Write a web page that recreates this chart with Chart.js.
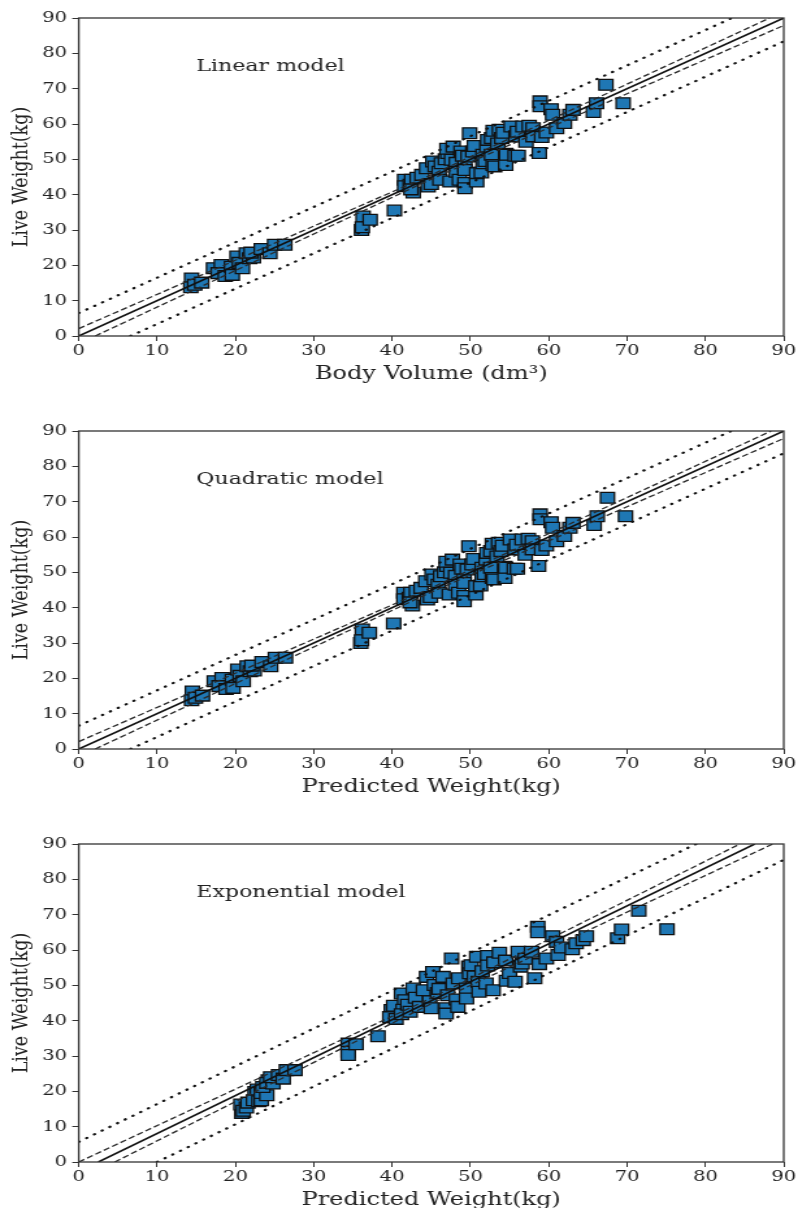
<!DOCTYPE html>
<html>
<head>
<meta charset="utf-8">
<script src="https://cdn.jsdelivr.net/npm/chart.js@4.4.1/dist/chart.umd.min.js"></script>
<style>
  html, body { margin: 0; padding: 0; background: #fff; overflow: hidden; }
  body { width: 798px; height: 1208px; position: relative; }
  /* the original figure is stretched sideways, so each panel is drawn narrow and scaled */
  .panel { position: absolute; left: 0; width: 614px; height: 400px; transform: scaleX(1.2997); transform-origin: 0 0; }
</style>
</head>
<body>
<div class="panel" style="top:0px"><canvas id="linearChart"></canvas></div>
<div class="panel" style="top:413px"><canvas id="quadChart"></canvas></div>
<div class="panel" style="top:826px"><canvas id="expChart"></canvas></div>
<script>
// Linear model: body volume vs live weight
const bodyVolume = [14.4, 14.3, 14.8, 15.7, 17.2, 18.2, 17.8, 18.7, 19.5, 19.6, 20.2, 20.5, 20.9, 21.4, 21.8, 22.3, 22.0, 23.3, 24.4, 25.0, 26.3,
  36.3, 36.1, 36.2, 37.2, 40.3,
  41.6, 41.6, 42.3, 42.5, 42.7, 42.4, 43.2, 43.8, 44.4, 44.6, 45.0, 45.2, 45.5, 46.0, 46.1, 46.3, 46.8, 47.1, 47.0, 47.4, 47.6, 47.8,
  48.2, 48.2, 48.6, 48.8, 49.0, 49.3, 49.3, 49.3, 49.3, 49.7, 49.9, 50.3, 50.5, 50.8, 50.8, 51.4, 51.6, 51.6, 51.9, 52.1, 52.2, 52.7,
  52.7, 52.9, 52.9, 53.1, 53.5, 53.7, 54.0, 54.2, 54.5, 54.5, 54.6, 55.2, 55.7, 55.8, 56.0, 56.1, 56.7, 57.1, 57.5, 58.0, 58.0, 58.8,
  58.9, 58.9, 59.1, 59.7, 60.3, 60.5, 61.0, 62.0, 62.7, 63.1, 65.7, 66.1, 67.3, 69.5];
const liveWeight1 = [16.3, 13.8, 14.5, 15.1, 19.2, 20.1, 17.8, 17.0, 19.6, 17.3, 22.5, 20.7, 19.2, 23.4, 22.0, 22.2, 23.6, 24.6, 23.4, 25.8, 25.8,
  33.8, 30.0, 30.8, 32.9, 35.5,
  44.2, 42.4, 42.8, 44.2, 40.6, 41.5, 44.8, 45.6, 47.5, 42.3, 43.0, 49.4, 48.0, 46.5, 44.2, 48.9, 50.0, 51.8, 53.0, 43.7, 49.9, 53.6,
  49.0, 46.5, 44.2, 52.2, 51.0, 48.0, 43.3, 41.8, 47.0, 50.8, 57.4, 52.2, 53.8, 43.7, 46.1, 46.3, 48.9, 51.3, 49.5, 53.6, 55.5, 51.3,
  56.0, 58.1, 48.4, 48.0, 54.5, 58.4, 56.0, 57.5, 51.6, 48.4, 51.3, 59.3, 51.0, 56.5, 57.8, 51.0, 59.3, 55.0, 59.5, 58.8, 56.5, 51.8,
  66.4, 65.0, 56.3, 57.6, 64.2, 62.6, 58.8, 60.3, 62.6, 64.0, 63.4, 65.9, 71.1, 65.9];

// Quadratic model: predicted vs live weight
const quadPredicted = [14.5, 14.4, 14.9, 15.8, 17.3, 18.3, 17.9, 18.8, 19.6, 19.7, 20.3, 20.6, 21.0, 21.5, 21.9, 22.4, 22.1, 23.4, 24.5, 25.1, 26.4,
  36.2, 36.0, 36.1, 37.1, 40.2,
  41.5, 41.5, 42.2, 42.4, 42.6, 42.3, 43.1, 43.7, 44.3, 44.5, 44.9, 45.1, 45.4, 45.9, 46.0, 46.2, 46.7, 47.0, 46.9, 47.3, 47.5, 47.7,
  48.1, 48.1, 48.5, 48.7, 48.9, 49.2, 49.2, 49.2, 49.2, 49.6, 49.8, 50.2, 50.4, 50.7, 50.7, 51.3, 51.5, 51.5, 51.8, 52.0, 52.1, 52.6,
  52.6, 52.8, 52.8, 53.0, 53.4, 53.6, 53.9, 54.1, 54.4, 54.4, 54.5, 55.1, 55.6, 55.7, 55.9, 56.0, 56.6, 57.0, 57.4, 57.9, 57.9, 58.7,
  58.9, 58.9, 59.1, 59.7, 60.3, 60.5, 61.0, 62.0, 62.7, 63.1, 65.8, 66.2, 67.5, 69.8];
const liveWeight2 = liveWeight1.slice();

// Exponential model: predicted vs live weight
const expPredicted = [20.8, 20.7, 21.0, 21.4, 21.6, 22.5, 22.3, 22.8, 23.0, 23.3, 23.3, 24.0, 23.5, 24.2, 24.0, 24.8, 24.5, 25.5, 26.1, 26.5, 27.6,
  34.4, 34.4, 34.4, 35.4, 38.2,
  39.9, 39.7, 40.2, 40.5, 41.2, 41.6, 41.4, 41.2, 42.0, 42.3, 42.7, 43.0, 43.5, 44.0, 44.4, 44.8, 45.0, 45.2, 45.4, 45.8, 46.0, 46.5,
  46.9, 46.9, 47.1, 47.6, 47.8, 48.2, 48.4, 48.5, 49.5, 49.5, 49.8, 49.9, 50.1, 50.5, 50.8, 51.0, 51.1, 51.5, 52.0, 52.2, 52.2, 52.9,
  53.0, 53.7, 54.5, 54.6, 55.0, 55.7, 56.1, 56.4, 56.6, 57.0, 57.8, 58.2, 58.6, 58.6, 58.8, 59.7, 60.5, 61.0, 61.2, 61.6, 63.0, 63.5,
  64.4, 64.8, 68.8, 69.3, 71.5, 75.1];
const liveWeight3 = [13.9, 16.3, 14.5, 15.4, 16.8, 19.8, 17.5, 20.5, 17.2, 17.5, 19.5, 18.9, 21.2, 23.1, 22.4, 22.2, 24.0, 24.6, 23.6, 26.0, 26.0,
  33.5, 31.2, 30.3, 33.3, 35.6,
  43.0, 41.0, 44.2, 40.5, 47.7, 45.8, 43.1, 41.8, 44.5, 42.5, 49.1, 46.5, 43.9, 48.6, 52.4, 45.5, 43.5, 53.8, 50.1, 47.8, 49.0, 52.4,
  43.5, 42.0, 47.2, 57.6, 50.5, 46.0, 43.9, 52.0, 49.1, 46.3, 55.3, 53.4, 55.7, 52.5, 58.1, 51.0, 48.2, 54.0, 50.5, 58.3, 55.6, 48.6,
  56.5, 59.2, 57.0, 51.3, 53.5, 51.0, 59.5, 55.3, 56.2, 57.5, 59.5, 52.0, 66.6, 65.0, 56.0, 57.6, 63.9, 62.3, 58.6, 60.7, 60.2, 61.9,
  62.8, 63.9, 63.3, 65.8, 71.1, 65.9];

// fitted line, confidence band (dashed) and prediction band (dotted), as [x, y] points
const linearFit = [[0, 0], [90, 90]];
const linearCiUpper = [[0, 2.1], [45, 45.6], [88.2, 90]];
const linearCiLower = [[2.1, 0], [45, 44.4], [90, 87.9]];
const linearPiUpper = [[0, 6.5], [83.4, 90]];
const linearPiLower = [[6.6, 0], [90, 83.4]];

const quadFit = [[0, 0], [90, 90]];
const quadCiUpper = [[0, 2.1], [45, 45.6], [88.4, 90]];
const quadCiLower = [[2.1, 0], [45, 44.4], [90, 87.9]];
const quadPiUpper = [[0, 6.6], [83.3, 90]];
const quadPiLower = [[6.6, 0], [90, 83.7]];

const expFit = [[2.5, 0], [86.3, 90]];
const expCiUpper = [[0, 0], [45, 46.4], [84.4, 90]];
const expCiLower = [[4.6, 0], [45, 44.8], [88.6, 90]];
const expPiUpper = [[0, 5.7], [78.8, 90]];
const expPiLower = [[10, 0], [90, 85.5]];

const serif = 'DejaVu Serif';

// box around the plot plus the model name
const framePlugin = {
  id: 'frame',
  afterDatasetsDraw(chart, args, opts) {
    const { ctx, chartArea } = chart;
    ctx.save();
    ctx.strokeStyle = '#333';
    ctx.lineWidth = 1.3;
    ctx.strokeRect(chartArea.left, chartArea.top, chartArea.right - chartArea.left, chartArea.bottom - chartArea.top);
    ctx.font = '17px "' + serif + '"';
    ctx.fillStyle = '#222';
    ctx.textBaseline = 'middle';
    ctx.fillText(opts.text, chart.scales.x.getPixelForValue(15), chart.scales.y.getPixelForValue(76.3));
    ctx.restore();
  }
};

function toPoints(pairs) {
  return pairs.map(p => ({ x: p[0], y: p[1] }));
}

function lineSet(pairs, kind) {
  const ds = { data: toPoints(pairs), showLine: true, pointRadius: 0, borderColor: '#111', borderWidth: 1.6, order: 0 };
  if (kind === 'dash') {
    ds.borderColor = '#2a2a2a';
    ds.borderWidth = 1.3;
    ds.borderDash = [5, 2.5];
  } else if (kind === 'dot') {
    ds.borderColor = '#111';
    ds.borderWidth = 2.2;
    ds.borderDash = [0.5, 6.5];
    ds.borderCapStyle = 'round';
  }
  return ds;
}

function axis(titleText, isY) {
  return {
    type: 'linear',
    min: 0,
    max: 90,
    ticks: { stepSize: 10, color: '#222', padding: isY ? 4 : 1, font: { family: serif, size: 15 } },
    grid: { drawOnChartArea: false, drawTicks: true, tickLength: 5, color: '#333' },
    border: { display: false },
    title: {
      display: true,
      text: titleText,
      color: '#222',
      font: { family: serif, size: isY ? 17.5 : 18.5 },
      padding: isY ? { top: 6, bottom: 0 } : { top: 0, bottom: 15 }
    },
    afterFit: isY ? (s => { s.width = 60.6; }) : (s => { s.height = 64; })
  };
}

function makePanel(id, xs, ys, lines, label, xTitle) {
  const pts = xs.map((x, i) => ({ x: x, y: ys[i] }));
  const datasets = [
    lineSet(lines[0], 'solid'),
    lineSet(lines[1], 'dash'),
    lineSet(lines[2], 'dash'),
    lineSet(lines[3], 'dot'),
    lineSet(lines[4], 'dot'),
    {
      data: pts,
      pointStyle: 'rect',
      pointRadius: 7.6,
      backgroundColor: '#1f77b4',
      borderColor: '#111',
      borderWidth: 1.3,
      order: 1
    }
  ];
  new Chart(document.getElementById(id).getContext('2d'), {
    type: 'scatter',
    data: { datasets: datasets },
    options: {
      responsive: true,
      maintainAspectRatio: false,
      animation: false,
      layout: { padding: { left: 0, right: 11, top: 18, bottom: 0 } },
      plugins: { legend: { display: false }, tooltip: { enabled: false }, frame: { text: label } },
      scales: {
        x: axis(xTitle, false),
        y: axis('Live Weight(kg)', true)
      }
    },
    plugins: [framePlugin]
  });
}

makePanel('linearChart', bodyVolume, liveWeight1,
  [linearFit, linearCiUpper, linearCiLower, linearPiUpper, linearPiLower], 'Linear model', 'Body Volume (dm³)');
makePanel('quadChart', quadPredicted, liveWeight2,
  [quadFit, quadCiUpper, quadCiLower, quadPiUpper, quadPiLower], 'Quadratic model', 'Predicted Weight(kg)');
makePanel('expChart', expPredicted, liveWeight3,
  [expFit, expCiUpper, expCiLower, expPiUpper, expPiLower], 'Exponential model', 'Predicted Weight(kg)');
</script>
</body>
</html>
